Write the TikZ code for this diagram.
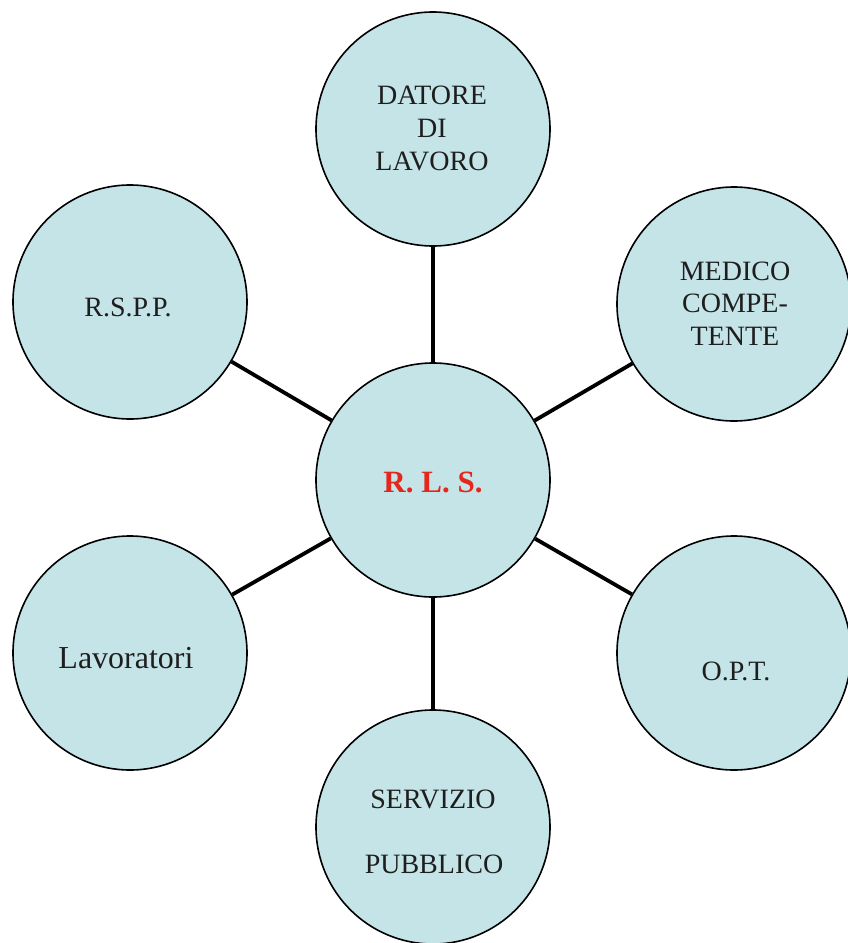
\documentclass[tikz,border=0pt]{standalone}
\usepackage{fontspec}
\setmainfont{Liberation Serif}
\definecolor{bubble}{RGB}{197,228,232}
\definecolor{rlsred}{RGB}{228,38,28}
\definecolor{inkgray}{RGB}{30,30,30}
\tikzset{
  bubblenode/.style={circle, draw=black, line width=1.6pt, fill=bubble, minimum size=234pt, inner sep=0pt},
  link/.style={line width=3.8pt, black},
  txt/.style={anchor=base, inner sep=0pt, text=inkgray, font=\fontsize{28}{33}\selectfont},
}
\begin{document}
\begin{tikzpicture}[x=1pt,y=-1pt]
\useasboundingbox (0,0) rectangle (847,943);
% circles
\node[bubblenode] (dat) at (433,129) {};
\node[bubblenode] (med) at (734,304) {};
\node[bubblenode] (rspp) at (130,302) {};
\node[bubblenode] (rls) at (433,480) {};
\node[bubblenode] (lav) at (130,653) {};
\node[bubblenode] (opt) at (734,653) {};
\node[bubblenode] (serv) at (433,827) {};
% connectors
\draw[link] (rls) -- (dat);
\draw[link] (rls) -- (med);
\draw[link] (rls) -- (rspp);
\draw[link] (rls) -- (lav);
\draw[link] (rls) -- (opt);
\draw[link] (rls) -- (serv);
% texts
\node[txt] (dat1) at (432,104) {DATORE};
\node[txt] (dat2) at (432,137) {DI};
\node[txt] (dat3) at (432,170) {LAVORO};
\node[txt] (med1) at (735,280) {MEDICO};
\node[txt] (med2) at (735,312) {COMPE-};
\node[txt] (med3) at (735,345) {TENTE};
\node[txt] (rsppt) at (128,316) {R.S.P.P.};
\node[txt, font=\bfseries\fontsize{31}{37}\selectfont, text=rlsred] (rlst) at (433,492) {R. L. S.};
\node[txt, font=\fontsize{32}{38}\selectfont] (lavt) at (126,668) {Lavoratori};
\node[txt] (optt) at (736,680) {O.P.T.};
\node[txt] (serv1) at (433,808) {SERVIZIO};
\node[txt] (serv2) at (434,873) {PUBBLICO};
\end{tikzpicture}
\end{document}
